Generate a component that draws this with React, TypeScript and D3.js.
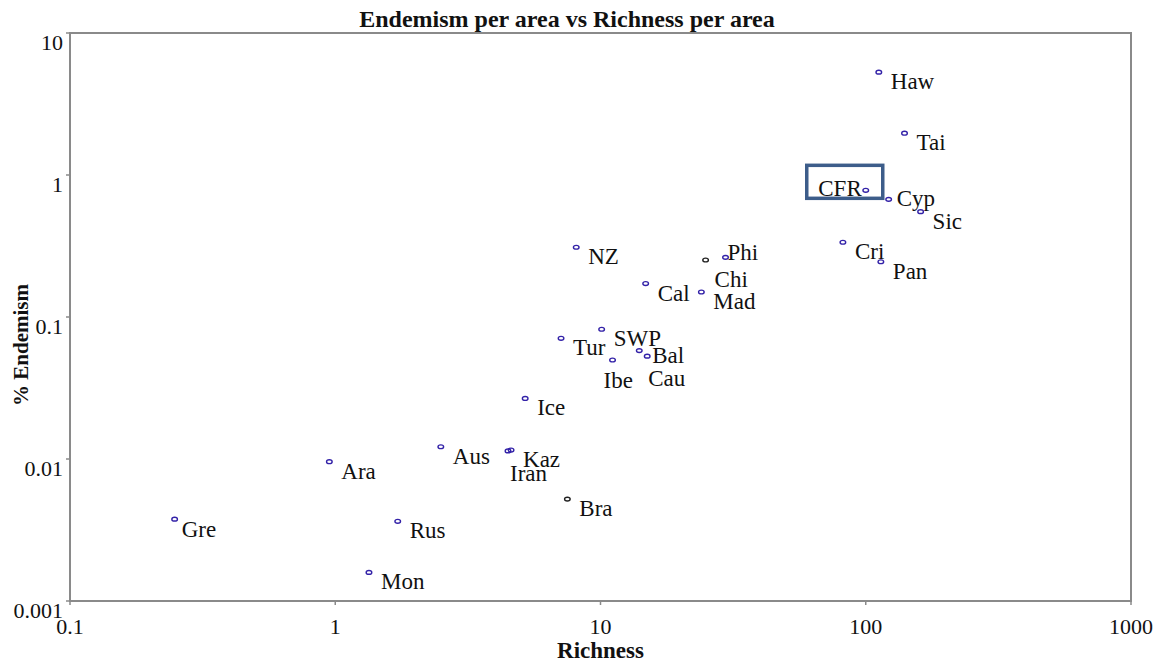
import React from "react";
import * as d3 from "d3";

// Regions: richness per area (x) and % endemism per area (y)
const regions = ["Haw", "Tai", "CFR", "Cyp", "Sic", "Cri", "Pan", "NZ", "Phi", "Chi", "Cal", "Mad", "SWP", "Tur", "Bal", "Cau", "Ibe", "Ice", "Aus", "Kaz", "Iran", "Ara", "Bra", "Rus", "Mon", "Gre"];
const richness = [112, 140, 100, 122, 161, 82, 114, 8.1, 29.6, 24.9, 14.8, 24.0, 10.1, 7.1, 14.0, 15.0, 11.1, 5.2, 2.5, 4.6, 4.48, 0.95, 7.5, 1.72, 1.34, 0.248];
const endemism = [5.3, 1.97, 0.78, 0.674, 0.552, 0.336, 0.245, 0.31, 0.263, 0.252, 0.172, 0.15, 0.082, 0.0708, 0.058, 0.053, 0.0498, 0.0267, 0.0122, 0.01156, 0.0114, 0.00957, 0.00522, 0.00364, 0.00159, 0.00377];
// Regions drawn with a dark marker instead of the blue one
const darkMarkers = ["Chi", "Bra"];

const xTicks = [0.1, 1, 10, 100, 1000];
const yTicks = [0.001, 0.01, 0.1, 1, 10];
const tickText = (v: number) => (v >= 1 ? String(v) : String(+v.toPrecision(1)));

// Label placement relative to each marker (default: below right)
const labelOffset: Record<string, [number, number, string?]> = {
  CFR: [-4, 6, "end"],
  Cyp: [8, 7],
  Phi: [2, 3],
  Chi: [9, 27],
  Bal: [13, 12],
  Cau: [1, 30],
  Ibe: [-9, 28],
  Iran: [2, 30],
  Gre: [7, 18],
};

const W = 1149;
const H = 650;
const SERIF = "Liberation Serif";

export default function App() {
  const x = d3.scaleLog().domain([0.1, 1000]).range([62, 1123]);
  const y = d3.scaleLog().domain([0.001, 10]).range([593, 25]);
  const [x0, x1] = x.range();
  const [y0, y1] = y.range();
  const axisColor = "#8a8a8a";
  const cfrIdx = regions.indexOf("CFR");
  const cfx = x(richness[cfrIdx]);
  const cfy = y(endemism[cfrIdx]);

  return (
    <svg width={W} height={H} style={{ display: "block", overflow: "visible" }}>
      <text x={559} y={19} textAnchor="middle" fontFamily={SERIF} fontSize={24} fontWeight="bold" fill="#111">
        Endemism per area vs Richness per area
      </text>

      {/* plot frame */}
      <rect x={x0} y={y1} width={x1 - x0} height={y0 - y1} fill="none" stroke={axisColor} strokeWidth={2} />

      {/* y ticks */}
      {yTicks.map((t) => (
        <g key={"y" + t}>
          <line x1={x0 - 4} x2={x0} y1={y(t)} y2={y(t)} stroke={axisColor} strokeWidth={1.5} />
          <text x={x0 - 7} y={y(t) + 17} textAnchor="end" fontFamily={SERIF} fontSize={22} fill="#111">
            {tickText(t)}
          </text>
        </g>
      ))}
      {/* x ticks */}
      {xTicks.map((t) => (
        <g key={"x" + t}>
          <line x1={x(t)} x2={x(t)} y1={y0} y2={y0 + 4} stroke={axisColor} strokeWidth={1.5} />
          <text x={x(t)} y={y0 + 33} textAnchor="middle" fontFamily={SERIF} fontSize={22} fill="#111">
            {tickText(t)}
          </text>
        </g>
      ))}

      <text x={(x0 + x1) / 2} y={650} textAnchor="middle" fontFamily={SERIF} fontSize={23} fontWeight="bold" fill="#111">
        Richness
      </text>
      <text
        transform={`translate(${20},${337}) rotate(-90)`}
        textAnchor="middle"
        fontFamily={SERIF}
        fontSize={21}
        fontWeight="bold"
        fill="#111"
      >
        % Endemism
      </text>

      {/* highlight box around CFR */}
      <rect x={cfx - 59} y={cfy - 25} width={76} height={33} fill="none" stroke="#3d5d8a" strokeWidth={3.5} />

      {regions.map((r, i) => {
        const px = x(richness[i]);
        const py = y(endemism[i]);
        const off = labelOffset[r] || [12, 17];
        return (
          <g key={r}>
            <ellipse
              cx={px}
              cy={py}
              rx={2.8}
              ry={1.9}
              fill="none"
              stroke={darkMarkers.includes(r) ? "#222" : "#3322a8"}
              strokeWidth={1.4}
            />
            <text
              x={px + off[0]}
              y={py + off[1]}
              textAnchor={off[2] || "start"}
              fontFamily={SERIF}
              fontSize={23}
              fill="#111"
            >
              {r}
            </text>
          </g>
        );
      })}
    </svg>
  );
}
